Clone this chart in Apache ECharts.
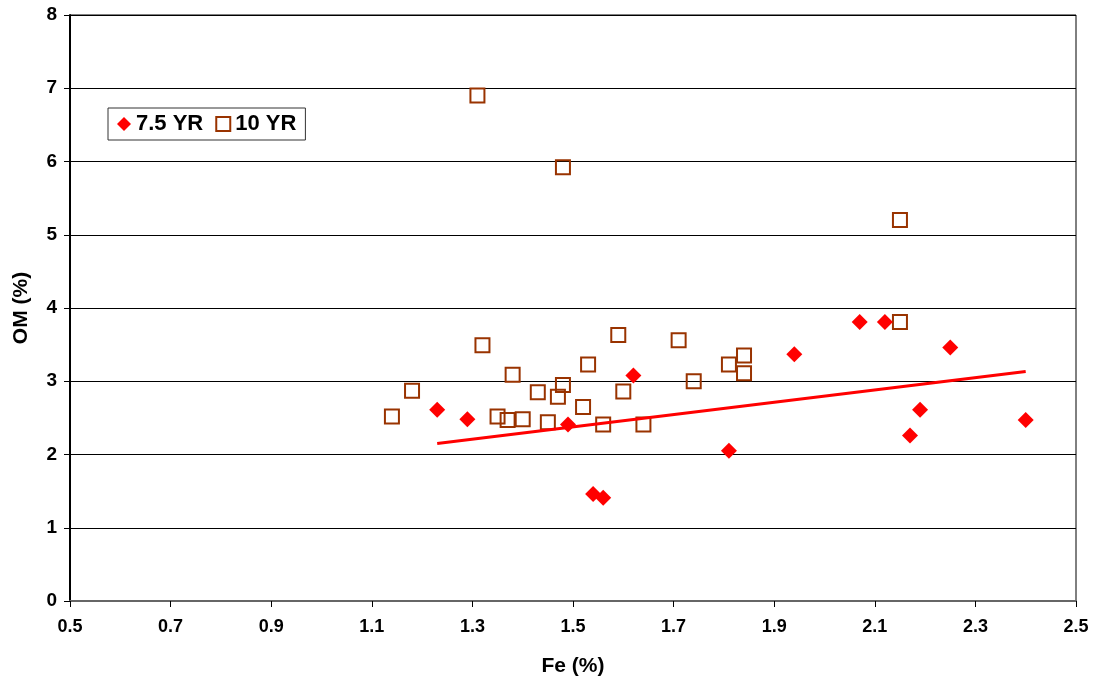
<!DOCTYPE html>
<html><head><meta charset="utf-8">
<script src="https://cdn.jsdelivr.net/npm/echarts@6/dist/echarts.min.js"></script>
<style>html,body{margin:0;padding:0;background:#fff}#c{width:1098px;height:685px}</style>
</head><body><div id="c"></div>
<script>
var seriesNames = ['7.5 YR', '10 YR'];
var fe75 = [1.23, 1.29, 1.49, 1.54, 1.56, 1.62, 1.81, 1.94, 2.07, 2.12, 2.17, 2.19, 2.25, 2.40];
var om75 = [2.61, 2.48, 2.41, 1.46, 1.41, 3.08, 2.05, 3.37, 3.81, 3.81, 2.26, 2.61, 3.46, 2.47];
var fe10 = [1.14, 1.18, 1.31, 1.32, 1.35, 1.37, 1.38, 1.40, 1.43, 1.45, 1.47, 1.48, 1.48, 1.52, 1.53, 1.56, 1.59, 1.60, 1.64, 1.71, 1.74, 1.81, 1.84, 1.84, 2.15, 2.15];
var om10 = [2.52, 2.87, 6.90, 3.49, 2.52, 2.47, 3.09, 2.48, 2.85, 2.44, 2.79, 2.95, 5.92, 2.65, 3.23, 2.41, 3.63, 2.86, 2.41, 3.56, 3.00, 3.23, 3.35, 3.11, 5.20, 3.81];
var trendFe = [1.23, 2.40];
var trendOm = [2.15, 3.134];
var xTicks = [0.5, 0.7, 0.9, 1.1, 1.3, 1.5, 1.7, 1.9, 2.1, 2.3, 2.5];
var yTicks = [0, 1, 2, 3, 4, 5, 6, 7, 8];

function zip(a, b) { return a.map(function (v, i) { return [v, b[i]]; }); }

var chart = echarts.init(document.getElementById('c'));
var font = 'Liberation Sans, Arial, sans-serif';
chart.setOption({
  animation: false,
  grid: { left: 70, right: 22, top: 15, bottom: 84, show: true, borderColor: '#000', borderWidth: 1 },
  legend: {
    left: 108, top: 108, itemGap: 12, itemWidth: 14, itemHeight: 14,
    padding: [5, 9, 5, 9],
    borderColor: '#333', borderWidth: 1, backgroundColor: '#fff',
    textStyle: { fontFamily: font, fontWeight: 'bold', fontSize: 22, color: '#000' },
    data: [
      { name: seriesNames[0], icon: 'diamond', itemStyle: { opacity: 1 } },
      { name: seriesNames[1], icon: 'rect', itemStyle: { color: '#fff', borderColor: '#993300', borderWidth: 2, opacity: 1 } }
    ]
  },
  xAxis: {
    type: 'value', min: 0.5, max: 2.5, interval: 0.2,
    name: 'Fe (%)', nameLocation: 'middle', nameGap: 55,
    nameTextStyle: { fontFamily: font, fontWeight: 'bold', fontSize: 21, color: '#000' },
    axisLine: { lineStyle: { color: '#666', width: 2 } },
    axisTick: { show: true, length: 6, lineStyle: { color: '#000' } },
    axisLabel: { margin: 17, fontFamily: font, fontWeight: 'bold', fontSize: 18, color: '#000',
      formatter: function (v) { var t = xTicks.find(function (x) { return Math.abs(x - v) < 1e-6; }); return t === undefined ? '' : String(t); } },
    splitLine: { show: false }
  },
  yAxis: {
    type: 'value', min: 0, max: 8, interval: 1,
    name: 'OM (%)', nameLocation: 'middle', nameGap: 38, nameRotate: 90,
    nameTextStyle: { fontFamily: font, fontWeight: 'bold', fontSize: 21, color: '#000' },
    axisLine: { show: true, lineStyle: { color: '#000', width: 2 } },
    axisTick: { show: true, length: 6, lineStyle: { color: '#000' } },
    axisLabel: { margin: 13, fontFamily: font, fontWeight: 'bold', fontSize: 19, color: '#000',
      formatter: function (v) { return yTicks.indexOf(v) >= 0 ? String(v) : ''; } },
    splitLine: { show: true, lineStyle: { color: '#000', width: 1 } }
  },
  series: [
    {
      name: seriesNames[0], type: 'scatter', symbol: 'diamond', symbolSize: 16,
      itemStyle: { color: '#ff0000', opacity: 1 }, data: zip(fe75, om75), z: 3
    },
    {
      name: seriesNames[1], type: 'scatter', symbol: 'rect', symbolSize: 14,
      itemStyle: { color: 'rgba(255,255,255,0)', borderColor: '#993300', borderWidth: 2, opacity: 1 }, data: zip(fe10, om10), z: 2
    },
    {
      name: 'trend', type: 'line', symbol: 'none', silent: true,
      lineStyle: { color: '#ff0000', width: 3 }, data: zip(trendFe, trendOm), z: 4
    }
  ]
});
</script></body></html>
